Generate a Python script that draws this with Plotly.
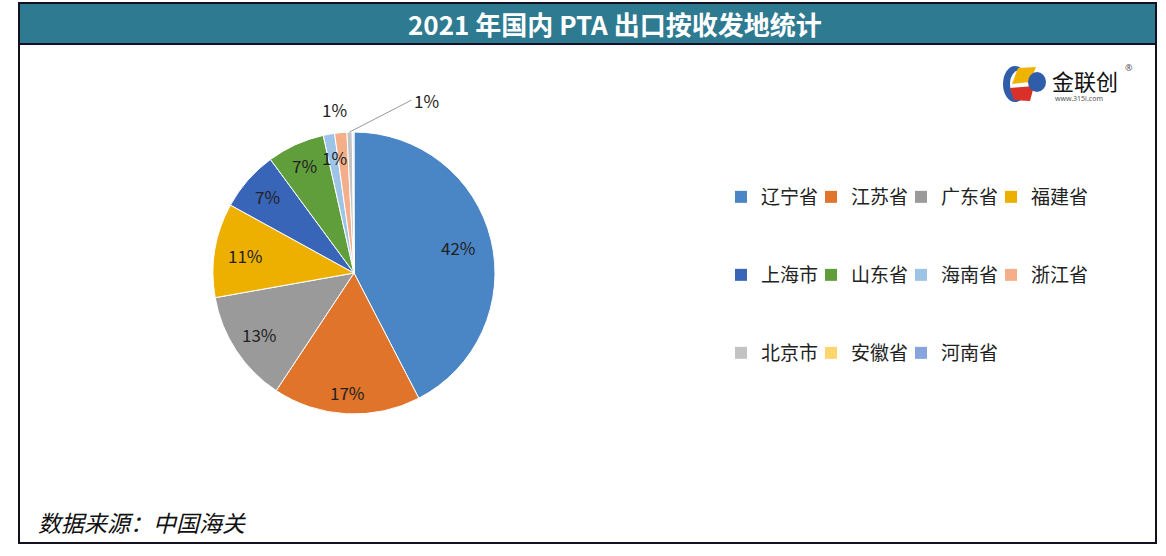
import math
import plotly.graph_objects as go

# ---------------- data ----------------
provinces = ["辽宁省", "江苏省", "广东省", "福建省", "上海市", "山东省",
             "海南省", "浙江省", "北京市", "安徽省", "河南省"]
shares = [42.4, 16.9, 12.9, 10.8, 6.9, 6.6, 1.3, 1.4, 0.6, 0.1, 0.1]
colors = ["#4A86C5", "#E0742A", "#9A9A9A", "#EDB000", "#3865B7", "#5F9E3A",
          "#9DC3E6", "#F4AF8A", "#C3C3C3", "#FFD56E", "#87A5DC"]
title_text = "2021 年国内 PTA 出口按收发地统计"
source_text = "数据来源：中国海关"

# ---------------- layout constants ----------------
W, H = 1166, 556
PLOT_W = 560  # plot-area width (left margin 0)


def px(x):
    return x / PLOT_W


def py(y):
    return (H - y) / H


CX, CY, R = 354, 273, 141                      # pie centre / radius (px)
LABEL_RF = [0.76, 0.85, 0.8, 0.78, 0.82, 0.84]  # label radius factor, big slices
LEGEND_X0, LEGEND_ROWS_Y, PER_ROW = 721, [197, 275, 353], 4

fig = go.Figure()
fig.add_trace(go.Pie(
    labels=provinces,
    values=shares,
    sort=False,
    direction="clockwise",
    rotation=0,
    marker=dict(colors=colors, line=dict(color="white", width=1)),
    textinfo="none",
    showlegend=False,
    domain=dict(x=[px(CX - R), px(CX + R)], y=[py(CY + R), py(CY - R)]),
    hoverinfo="label+percent",
))

# legend rows (one legend per row, entries built from the same lists)
legend_ids = ["legend", "legend2", "legend3"]
for i, (name, col) in enumerate(zip(provinces, colors)):
    last_in_row = (i % PER_ROW == PER_ROW - 1) or (i == len(provinces) - 1)
    fig.add_trace(go.Scatter(
        x=[None], y=[None], mode="markers", name=name,
        marker=dict(symbol="square", size=12, color=col, line=dict(width=0)),
        legend=legend_ids[i // PER_ROW], legendwidth=70 if last_in_row else 45,
        hoverinfo="skip",
    ))

# ---------------- slice labels from the slice angles ----------------
total = sum(shares)
cum = 0.0
mid_angle = []
for v in shares:
    mid_angle.append((cum + v / 2) / total * 2 * math.pi)
    cum += v


def polar(i, rf):
    a = mid_angle[i]
    return CX + rf * R * math.sin(a), CY - rf * R * math.cos(a)


def pct(i):
    return f"{round(shares[i] / total * 100)}%"


lab_font = dict(family="Noto Sans CJK SC", size=17, color="#222222")
annotations = []
for i, rf in enumerate(LABEL_RF):
    x, y = polar(i, rf)
    annotations.append(dict(text=pct(i), xref="paper", yref="paper", x=px(x), y=py(y),
                            xanchor="center", yanchor="middle", showarrow=False,
                            font=lab_font))
# 海南省 – outside, left
x, y = polar(6, 1.18)
annotations.append(dict(text=pct(6), xref="paper", yref="paper", x=px(x + 10), y=py(y),
                        xanchor="center", yanchor="middle", showarrow=False, font=lab_font))
# 浙江省 – inside
x, y = polar(7, 0.82)
annotations.append(dict(text=pct(7), xref="paper", yref="paper", x=px(x - 9), y=py(y),
                        xanchor="center", yanchor="middle", showarrow=False, font=lab_font))
# 北京市 – outside with leader line
x, y = polar(8, 1.0)
annotations.append(dict(text=pct(8), xref="paper", yref="paper", x=px(x), y=py(y),
                        showarrow=True, arrowhead=0, arrowwidth=1, arrowcolor="#999999",
                        ax=62, ay=-32, xanchor="left", yanchor="middle", font=lab_font))

shapes = [
    dict(type="rect", xref="paper", yref="paper", x0=px(19), x1=px(1156),
         y0=py(44), y1=py(3), fillcolor="#2E7A91", line=dict(width=0), layer="below"),
    dict(type="rect", xref="paper", yref="paper", x0=px(19), x1=px(1156),
         y0=py(543), y1=py(3), line=dict(color="#111122", width=2)),
    dict(type="line", xref="paper", yref="paper", x0=px(19), x1=px(1156),
         y0=py(44), y1=py(44), line=dict(color="#111122", width=2)),
    # logo icon
    dict(type="circle", xref="paper", yref="paper", x0=px(1003), x1=px(1027),
         y0=py(102), y1=py(66), line=dict(width=0), fillcolor="#2F5DAA"),
    dict(type="circle", xref="paper", yref="paper", x0=px(1010), x1=px(1030),
         y0=py(98), y1=py(70), line=dict(width=0), fillcolor="white"),
    dict(type="path", xref="paper", yref="paper",
         path=f"M{px(1012)},{py(84)} L{px(1018)},{py(68)} L{px(1036)},{py(67)} L{px(1030)},{py(82)} Z",
         line=dict(width=0), fillcolor="#F0B400"),
    dict(type="path", xref="paper", yref="paper",
         path=f"M{px(1010)},{py(88)} L{px(1034)},{py(86)} L{px(1030)},{py(101)} L{px(1014)},{py(100)} Z",
         line=dict(width=0), fillcolor="#D9302A"),
    dict(type="circle", xref="paper", yref="paper", x0=px(1028), x1=px(1046),
         y0=py(92), y1=py(72), line=dict(width=0), fillcolor="#2F5DAA"),
]

annotations += [
    dict(text=f"<b>{title_text}</b>", xref="paper", yref="paper",
         x=px(615), y=py(24), xanchor="center", yanchor="middle", showarrow=False,
         font=dict(family="Noto Sans CJK SC", size=26, color="white")),
    dict(text=source_text, xref="paper", yref="paper", x=px(36), y=py(522),
         xanchor="left", yanchor="middle", showarrow=False,
         font=dict(family="Noto Sans CJK SC", size=23, color="#111111", style="italic")),
    dict(text="金联创", xref="paper", yref="paper", x=px(1050), y=py(80),
         xanchor="left", yanchor="middle", showarrow=False,
         font=dict(family="Noto Sans CJK SC", size=22, color="#111111")),
    dict(text="®", xref="paper", yref="paper", x=px(1129), y=py(67),
         xanchor="center", yanchor="middle", showarrow=False,
         font=dict(family="Noto Sans", size=9, color="#555555")),
    dict(text="www.315i.com", xref="paper", yref="paper", x=px(1053), y=py(98),
         xanchor="left", yanchor="middle", showarrow=False,
         font=dict(family="Noto Sans", size=7, color="#555555")),
]

legend_font = dict(family="Noto Sans CJK SC", size=19, color="#222222")
legends = {}
for lid, ry in zip(legend_ids, LEGEND_ROWS_Y):
    legends[lid] = dict(
        orientation="h", x=px(LEGEND_X0), xanchor="left", y=py(ry), yanchor="middle",
        entrywidth=45, entrywidthmode="pixels", itemwidth=30,
        bgcolor="rgba(0,0,0,0)", borderwidth=0, font=legend_font,
    )

fig.update_layout(
    width=W, height=H,
    margin=dict(l=0, r=W - PLOT_W, t=0, b=0, autoexpand=False),
    paper_bgcolor="white", plot_bgcolor="white",
    showlegend=True,
    xaxis=dict(visible=False), yaxis=dict(visible=False),
    shapes=shapes,
    annotations=annotations,
    **legends,
)

fig.write_html("out.html", config={"displayModeBar": False},
               post_script="document.body.style.margin='0px';")
